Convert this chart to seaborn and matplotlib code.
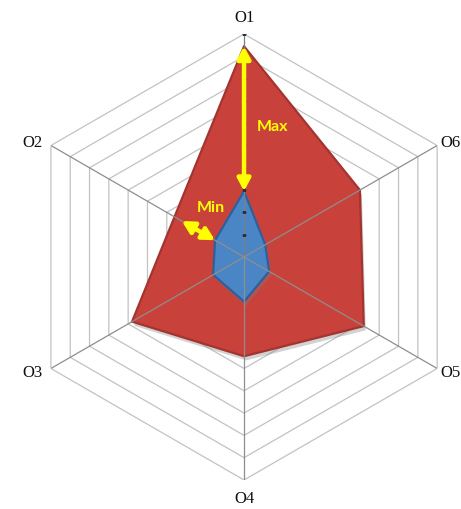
import numpy as np
import pandas as pd
import matplotlib
matplotlib.use("Agg")
import matplotlib.pyplot as plt
import matplotlib.patheffects as pe
import seaborn as sns

# Radar data: six objectives, outer (max) and inner (min) profiles
axis_labels = ["O1", "O2", "O3", "O4", "O5", "O6"]
max_values = [9.45, 3.6, 5.8, 4.45, 6.2, 6.0]
min_values = [2.95, 1.5, 1.6, 2.0, 1.3, 1.1]
ring_levels = list(range(1, 11))

sns.set_theme(style="white")
plt.rcParams["font.family"] = ["Liberation Serif", "DejaVu Serif"]

n = len(axis_labels)
angles = np.arange(n) * 2 * np.pi / n
closed_angles = np.append(angles, angles[0] + 2 * np.pi)


def closed(vals):
    return np.append(vals, vals[0])


fig = plt.figure(figsize=(4.61, 5.10), dpi=100)
fig.patch.set_facecolor("white")
ax = fig.add_axes([0.0456, 0.0569, 0.9675, 0.8745], projection="polar")
ax.set_theta_zero_location("N")
ax.set_theta_direction(1)
ax.grid(False)
ax.spines["polar"].set_visible(False)
ax.patch.set_visible(False)

# hexagonal grid rings
rings = pd.DataFrame(
    [(a, lvl, lvl) for lvl in ring_levels for a in closed_angles],
    columns=["theta", "r", "ring"],
)
sns.lineplot(data=rings, x="theta", y="r", units="ring", estimator=None,
             sort=False, color="#C2C2C2", lw=0.9, ax=ax, legend=False, zorder=1)

# filled profiles
shadow = [pe.SimplePatchShadow(offset=(1.5, -3), shadow_rgbFace="#808080", alpha=0.35), pe.Normal()]
ax.fill(closed_angles, closed(max_values), facecolor="#C9413B", edgecolor="#A33430",
        lw=1.6, zorder=2, path_effects=shadow)
ax.fill(closed_angles, closed(min_values), facecolor="#4A85C6", edgecolor="#2E609C",
        lw=1.6, zorder=3, path_effects=shadow)

# spokes on top of the fills
for i, a in enumerate(angles):
    ax.plot([a, a], [0, ring_levels[-1]], color="#7F7F7F" if i == 0 else "#8E8E8E",
            lw=0.9, zorder=4)
ax.plot(np.zeros(len(ring_levels)), ring_levels, ls="none", marker="_", ms=3.5,
        mew=0.9, color="#303030", zorder=5)

ax.set_ylim(0, ring_levels[-1])
ax.set_xticks([])
ax.set_yticks([])
ax.set_xlabel("")
ax.set_ylabel("")

# axis labels
label_pos = {
    "O1": ((0, 9), "center", "bottom"),
    "O2": ((-8, 3), "right", "center"),
    "O3": ((-8, -4), "right", "center"),
    "O4": ((0, -10), "center", "top"),
    "O5": ((3, -4), "left", "center"),
    "O6": ((3, 3), "left", "center"),
}
for a, lab in zip(angles, axis_labels):
    off, ha, va = label_pos[lab]
    ax.annotate(lab, xy=(a, ring_levels[-1]), xytext=off, textcoords="offset pixels",
                ha=ha, va=va, fontsize=12, color="#111111", annotation_clip=False)

# Max / Min annotations
yellow = "#FFFF00"
arrow_style = "<|-|>,head_length=0.6,head_width=0.32"
ax.annotate("", xy=(angles[0], min_values[0]), xytext=(angles[0], max_values[0]),
            arrowprops=dict(arrowstyle=arrow_style, color=yellow, lw=3.2,
                            shrinkA=0, shrinkB=0), zorder=6)
ax.annotate("Max", xy=(angles[0], (max_values[0] + min_values[0]) / 2),
            xytext=(28, -7), textcoords="offset pixels", ha="center", va="center",
            color=yellow, fontsize=11.5, fontweight="bold",
            family=["Lato", "DejaVu Sans"], zorder=6)

ax.annotate("", xy=(angles[1], min_values[1]), xytext=(angles[1], max_values[1]),
            arrowprops=dict(arrowstyle=arrow_style, color=yellow, lw=3.2,
                            shrinkA=6, shrinkB=0), zorder=6)
ax.annotate("Min", xy=(angles[1], min_values[1]),
            xytext=(-4, 33), textcoords="offset pixels", ha="center", va="center",
            color=yellow, fontsize=11.5, fontweight="bold",
            family=["Lato", "DejaVu Sans"], zorder=6)

fig.savefig("out.png", dpi=100, facecolor="white")
